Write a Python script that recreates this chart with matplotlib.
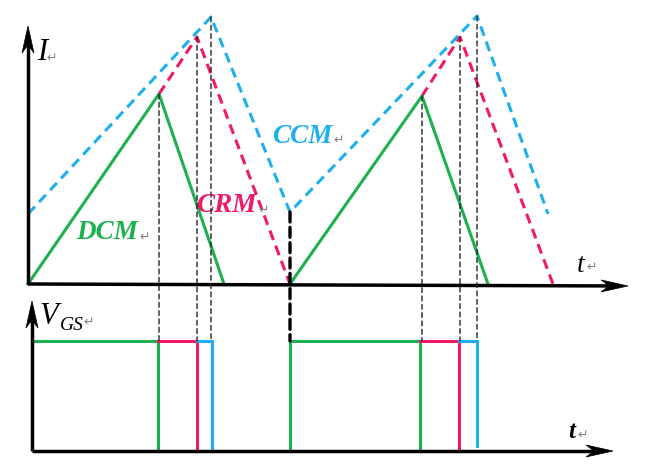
"""
Inductor current and gate drive waveforms for DCM, CRM and CCM.
"""
import matplotlib
matplotlib.use("Agg")
import numpy as np
from matplotlib import pyplot as plt
from matplotlib.patches import ConnectionPatch, Polygon

GREEN = "#1db04f"
RED = "#f0196a"
BLUE = "#1eb0ec"
GRAY = "#808080"

# current waveforms (t, I), I = 0 on the time axis
dcm_t = [[28, 159, 224], [290, 422, 488]]
dcm_i = [[0, 190, 0], [0, 188, 0]]
crm_t = [[159, 197, 290], [422, 460, 553]]
crm_i = [[190, 247, 0], [188, 247, 0]]
ccm_t = [28, 211, 290, 477, 548]
ccm_i = [70, 267, 72, 268, 70]

# switching instants (t, I at top end) for the guide lines
guide_t = [159, 197, 211, 422, 460, 477]
guide_i = [190, 247, 267, 188, 247, 268]
restart_t = 290
restart_i = 72

# gate drive pulses (t, V)
v_high = 110
gs_green_t = [[32, 158, 158], [290, 290, 420, 420]]
gs_green_v = [[v_high, v_high, 0], [0, v_high, v_high, 0]]
gs_red_t = [[158, 197, 197], [420, 459, 459]]
gs_red_v = [[v_high, v_high, 0], [v_high, v_high, 0]]
gs_blue_t = [[197, 212, 212], [459, 477, 477]]
gs_blue_v = [[v_high, v_high, 0], [v_high, v_high, 5]]

SERIF = ["Liberation Serif", "DejaVu Serif"]


def axis_arrow(ax, start, end, lw=2.5, head_len=27, head_w=6, notch=8):
    """Axis line with a narrow stealth head (data units are pixels here)."""
    start = np.array(start, float)
    end = np.array(end, float)
    d = (end - start) / np.linalg.norm(end - start)
    n = np.array([-d[1], d[0]])
    base = end - d * head_len
    ax.plot([start[0], (end - d * (head_len - notch))[0]],
            [start[1], (end - d * (head_len - notch))[1]],
            color="black", linewidth=lw, solid_capstyle="butt", clip_on=False)
    pts = [end, base + n * head_w, end - d * (head_len - notch), base - n * head_w]
    ax.add_patch(Polygon(pts, closed=True, facecolor="black",
                         edgecolor="black", linewidth=0.5, clip_on=False))


def return_mark(ax, x, y, size=9):
    ax.text(x, y, "\u21b5", color=GRAY, fontsize=size,
            family=["DejaVu Sans"], ha="left", va="center")


fig = plt.figure(figsize=(6.56, 4.77), dpi=100)
# top panel: pixel rows 0..290, bottom panel rows 290..477
ax_i = fig.add_axes([0, 187 / 477, 1, 290 / 477])
ax_v = fig.add_axes([0, 0, 1, 187 / 477])
ax_i.set_xlim(0, 656)
ax_i.set_ylim(-5, 285)
ax_v.set_xlim(0, 656)
ax_v.set_ylim(-25, 162)
for ax in (ax_i, ax_v):
    ax.axis("off")

dash_style = dict(linewidth=2.2, dashes=(3.3, 2.0))

# CCM (blue dashed)
ax_i.plot(ccm_t, ccm_i, color=BLUE, **dash_style)
# CRM (red dashed)
for t, i in zip(crm_t, crm_i):
    ax_i.plot(t, i, color=RED, **dash_style)
# DCM (green solid)
for t, i in zip(dcm_t, dcm_i):
    ax_i.plot(t, i, color=GREEN, linewidth=2.2)

# guide lines down to the gate pulses
for t, i in zip(guide_t, guide_i):
    con = ConnectionPatch((t, i), (t, v_high), coordsA=ax_i.transData,
                          coordsB=ax_v.transData, color="#222222",
                          linewidth=1.0, linestyle=(0, (3.5, 2.5)))
    fig.add_artist(con)
con = ConnectionPatch((restart_t, restart_i), (restart_t, v_high),
                      coordsA=ax_i.transData, coordsB=ax_v.transData,
                      color="black", linewidth=2.4, linestyle=(0, (3, 1.6)))
fig.add_artist(con)

# gate pulses
for t, v in zip(gs_green_t, gs_green_v):
    ax_v.plot(t, v, color=GREEN, linewidth=2.2)
for t, v in zip(gs_red_t, gs_red_v):
    ax_v.plot(t, v, color=RED, linewidth=2.2)
for t, v in zip(gs_blue_t, gs_blue_v):
    ax_v.plot(t, v, color=BLUE, linewidth=2.2)

# axes
axis_arrow(ax_i, (28, 0), (28, 258))
axis_arrow(ax_i, (28, 0), (628, -2))
axis_arrow(ax_v, (32, 0), (32, 150))
axis_arrow(ax_v, (32, 0), (613, 0))

# labels
ax_i.text(37, 232, "I", color="black", fontsize=22, style="italic",
          family=SERIF, ha="left", va="center")
return_mark(ax_i, 46, 227)
ax_i.text(272, 148, "CCM", color=BLUE, fontsize=19.5, style="italic",
          weight="bold", family=SERIF, ha="left", va="center")
return_mark(ax_i, 333, 145)
ax_i.text(196, 79, "CRM", color=RED, fontsize=19.5, style="italic",
          weight="bold", family=SERIF, ha="left", va="center")
return_mark(ax_i, 258, 75)
ax_i.text(76, 52, "DCM", color=GREEN, fontsize=19.5, style="italic",
          weight="bold", family=SERIF, ha="left", va="center")
return_mark(ax_i, 139, 48)
ax_i.text(577, 19, "t", color="black", fontsize=20, style="italic",
          family=SERIF, ha="left", va="center")
return_mark(ax_i, 586, 18)

ax_v.text(39, 135, "V", color="black", fontsize=22, style="italic",
          family=SERIF, ha="left", va="center")
ax_v.text(60, 127, "GS", color="black", fontsize=14, style="italic",
          family=SERIF, ha="left", va="center")
return_mark(ax_v, 83, 130)
ax_v.text(568, 20, "t", color="black", fontsize=18, style="italic",
          weight="bold", family=SERIF, ha="left", va="center")
return_mark(ax_v, 577, 17)

fig.savefig("out.png", dpi=100)
